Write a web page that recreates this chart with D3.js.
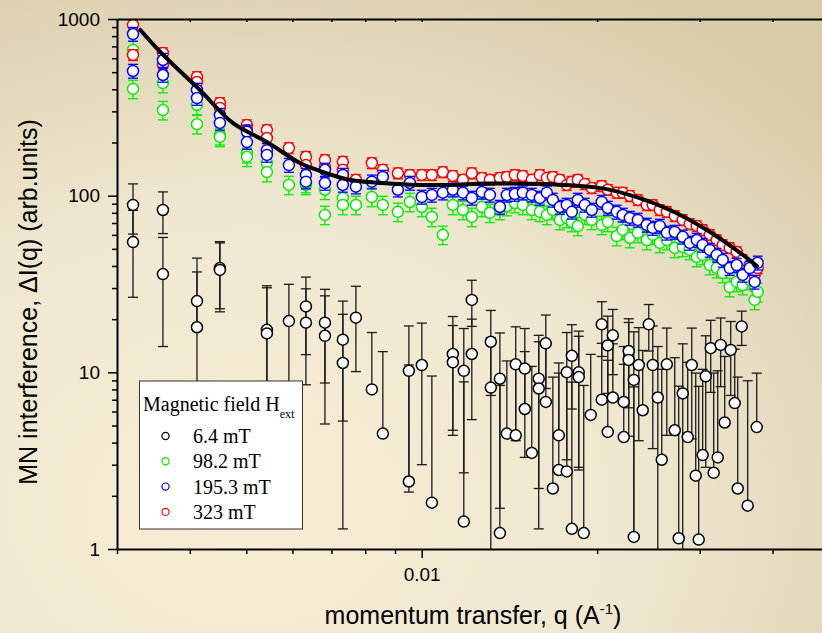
<!DOCTYPE html>
<html>
<head>
<meta charset="utf-8">
<script src="https://cdn.jsdelivr.net/npm/d3@7"></script>
<style>
  body { margin: 0; }
  svg { display: block; }
  .tick text { font-family: "Liberation Sans", Arial, sans-serif; font-size: 19px; fill: #000; }
</style>
</head>
<body>
<svg id="chart" width="822" height="633"></svg>
<script>
// legend entries (field values)
const fieldLabels = ["6.4 mT", "98.2 mT", "195.3 mT", "323 mT"];

// 6.4 mT: q, dI and (linear) error
const q64 = [0.003196, 0.003196, 0.003597, 0.003597, 0.004115, 0.004115, 0.004505, 0.004505, 0.005424, 0.005424,
    0.005917, 0.006329, 0.006329, 0.006823, 0.006823, 0.007323, 0.007323, 0.007711, 0.008212, 0.008577,
    0.009506, 0.009506, 0.010005, 0.01041, 0.01131, 0.01131, 0.01181, 0.01181, 0.01219, 0.01219,
    0.01314, 0.01314, 0.01362, 0.01362, 0.0140, 0.0145, 0.0145, 0.01503, 0.01503, 0.01545,
    0.01588, 0.01588, 0.01633, 0.01633, 0.01679, 0.01719, 0.01719, 0.01774, 0.01774, 0.0181,
    0.0181, 0.0186, 0.0186, 0.01897, 0.0195, 0.02037, 0.02037, 0.02086, 0.02086, 0.02128,
    0.02128, 0.02222, 0.02222, 0.02266, 0.02266, 0.02312, 0.02312, 0.02358, 0.02395, 0.02453,
    0.02492, 0.02542, 0.02582, 0.02634, 0.02718, 0.02761, 0.02805, 0.02861, 0.02907, 0.02953,
    0.02988, 0.03035, 0.03072, 0.03133, 0.0317, 0.03221, 0.03259, 0.03311, 0.03391, 0.03445,
    0.03486, 0.03541, 0.03626, 0.03758];
const I64 = [88.6, 54.6, 83, 36, 25.3, 18, 38.9, 38, 17.4, 16.6,
    19.5, 23.6, 19.1, 19.1, 16.1, 15.3, 11.3, 20.4, 8.0, 4.5,
    10.2, 2.41, 11.0, 1.83, 12.7, 11.4, 10.2, 1.43, 25.7, 12.7,
    14.9, 8.2, 9.2, 1.23, 4.5, 11.1, 4.4, 10.5, 6.2, 3.5,
    9.2, 8.1, 14.6, 6.8, 2.2, 4.4, 2.8, 10, 2.75, 12.4,
    1.3, 10, 9.4, 1.23, 5.74, 18.7, 7, 14.2, 4.6, 16.2,
    7.2, 6.8, 4.3, 13.2, 11.75, 9.06, 1.17, 11, 6.1, 18.7,
    11, 7.2, 3.2, 11.1, 4.7, 1.15, 7.6, 4.3, 11, 2.6,
    1.13, 3.4, 9.5, 13.7, 2.7, 3.3, 14.3, 5.2, 13.4, 6.7,
    2.2, 18.2, 1.76, 4.9];
const err64 = [28, 28, 22, 22, 19, 19, 16, 16, 13.5, 13.5,
    12, 11, 10.6, 10.4, 11, 10, 10, 10.3, 8.8, 8.6,
    8.1, 8.6, 8, 7.7, 8, 7, 7.5, 7.4, 7.5, 7.3,
    7.5, 7.5, 7.5, 7.2, 7.1, 7, 6.8, 7.2, 6.9, 7.3,
    7, 6.8, 6.5, 7.4, 7.2, 6.9, 7.1, 6.8, 7.3, 6.2,
    7.5, 7.1, 6.6, 7.2, 6.9, 6.4, 7.6, 6.6, 7.1, 6.5,
    7.3, 7.2, 6.8, 6.9, 7.4, 7.9, 7.1, 6.9, 7.2, 5.5,
    7.3, 6.8, 7.2, 6.7, 7.4, 7.2, 6.9, 7.1, 6.8, 7.3,
    7.2, 7, 6.6, 6, 7.2, 6.9, 6, 7.1, 6, 6.8,
    7.2, 4, 7.2, 5]
;

// q grid shared by the three higher-field curves
const qHi = [0.003196, 0.003196, 0.003597, 0.003597, 0.004115, 0.004115, 0.004505, 0.004505, 0.005013, 0.005013,
    0.005424, 0.005424, 0.005917, 0.006329, 0.006329, 0.006823, 0.006823, 0.007323, 0.007323, 0.007711,
    0.008212, 0.008577, 0.009102, 0.009544, 0.010005, 0.01041, 0.010874, 0.01131, 0.011768, 0.01219,
    0.012685, 0.01309, 0.01362, 0.0140, 0.014448, 0.014911, 0.01545, 0.015949, 0.016396, 0.01679,
    0.01726, 0.01774, 0.0181, 0.01853, 0.01905, 0.01958, 0.02037, 0.02086, 0.02161, 0.02213,
    0.02276, 0.02349, 0.02433, 0.02492, 0.02562, 0.02634, 0.02718, 0.02805, 0.02884, 0.02965,
    0.03035, 0.03121, 0.03208, 0.03285, 0.03377, 0.03472, 0.03555, 0.03655, 0.03727, 0.03772];

const I98 = [668, 402, 434, 305, 326, 254, 220, 215, 174, 166,
    153, 136, 115, 115, 118, 108, 77.8, 97.1, 88.6, 88.6,
    98.4, 88.6, 81, 92.1, 86.3, 75.8, 60, 88.6, 83, 75.8,
    86.3, 80, 83, 87.4, 90.9, 88.6, 83, 81, 77.8, 83,
    72.9, 74.8, 71, 67.4, 77.8, 72.9, 68.3, 71, 59.1, 64,
    57.6, 61.6, 56.1, 60, 54, 56.1, 50.6, 51.3, 49.3, 45,
    46.2, 40.5, 38.9, 36.5, 30.4, 32.5, 31.2, 33.4, 25.7, 28.5];

const I195 = [822, 508, 586, 482, 397, 357, 286, 258, 230, 201,
    181, 170, 149, 131, 120, 140, 118, 131, 115, 112.5,
    120, 127.6, 108, 118, 98.4, 101, 104, 108, 104, 97.1,
    105, 101, 86.3, 101, 102.2, 104, 101, 97.1, 104, 94.6,
    86.3, 88.6, 81, 94.6, 88.6, 83, 92.1, 85.2, 81, 77.8,
    74.8, 72.9, 68.3, 65.6, 67.4, 61.6, 62.3, 58.5, 54, 56.1,
    52.6, 49.3, 46.2, 43.3, 38.9, 40.5, 35.6, 38.9, 32.5, 41.7];

const I323 = [925, 626, 642, 549, 470, 440, 335, 314, 251, 235,
    235, 212, 186, 166, 149, 146, 159, 155.6, 140, 123,
    153, 140, 134, 131, 131, 131, 136, 129.3, 123, 134,
    126, 123, 126, 127.6, 131, 129.3, 123, 131, 126, 127.6,
    123, 115, 120, 123, 116.5, 110.6, 113.5, 108, 104, 104,
    99.6, 94.6, 88.6, 88.6, 83, 81, 76.8, 72.9, 69.2, 67.4,
    64, 60, 56.1, 52.6, 50.6, 48, 43.3, 40.5, 35.6, 38.9];

// relative error of the higher-field data
const relErr = [0.12, 0.09, 0.07];

// model curve
const qFit = [0.00329, 0.0036, 0.00416, 0.00474, 0.00543, 0.00618, 0.00661, 0.00752, 0.00857, 0.00993,
    0.01118, 0.01294, 0.01677, 0.02046, 0.02339, 0.02666, 0.03036, 0.03474, 0.03761];
const IFit = [867, 626, 397, 258, 201, 153, 140, 123, 118, 115,
    115, 117, 116, 110, 98, 83, 66, 49, 40];

const yMajor = [1, 10, 100, 1000];
const xMajor = [0.01];

const colors = ["#000000", "#00ee00", "#0000ff", "#ff0000"];

const width = 822;
const height = 633;
const plotLeft = 117;
const plotRight = 829;
const plotTop = 19;
const plotBottom = 549;

const svg = d3.select("#chart");

// background
const defs = svg.append("defs");
const grad = defs.append("radialGradient")
    .attr("id", "bg")
    .attr("cx", "0.3").attr("cy", "0.8").attr("r", "0.95");
grad.append("stop").attr("offset", "0").attr("stop-color", "#f8edd5");
grad.append("stop").attr("offset", "0.5").attr("stop-color", "#efe7d0");
grad.append("stop").attr("offset", "1").attr("stop-color", "#d8cba8");
svg.append("rect").attr("width", width).attr("height", height).attr("fill", "url(#bg)");

defs.append("clipPath").attr("id", "plot-clip")
    .append("rect")
    .attr("x", plotLeft).attr("y", plotTop)
    .attr("width", width - plotLeft).attr("height", plotBottom - plotTop);

const x = d3.scaleLog().domain([0.003, 0.05]).range([plotLeft, plotRight]);
const y = d3.scaleLog().domain([1, 1000]).range([plotBottom, plotTop]);

const plot = svg.append("g").attr("clip-path", "url(#plot-clip)");

// draw one data set with error bars
function drawSeries(qs, vals, errs, color, lineColor) {
    const g = plot.append("g");
    const cap = 5;
    qs.forEach(function (q, i) {
        const v = vals[i];
        const e = errs[i];
        const cx = x(q);
        const hi = v + e;
        const lo = v - e;
        g.append("line")
            .attr("x1", cx).attr("x2", cx)
            .attr("y1", y(v)).attr("y2", y(hi))
            .attr("stroke", lineColor).attr("stroke-width", 1.3);
        g.append("line")
            .attr("x1", cx - cap).attr("x2", cx + cap)
            .attr("y1", y(hi)).attr("y2", y(hi))
            .attr("stroke", lineColor).attr("stroke-width", 1.3);
        // lower bar is left out when it goes to zero or below
        if (lo > 0) {
            g.append("line")
                .attr("x1", cx).attr("x2", cx)
                .attr("y1", y(v)).attr("y2", y(lo))
                .attr("stroke", lineColor).attr("stroke-width", 1.3);
            g.append("line")
                .attr("x1", cx - cap).attr("x2", cx + cap)
                .attr("y1", y(lo)).attr("y2", y(lo))
                .attr("stroke", lineColor).attr("stroke-width", 1.3);
        }
    });
    g.selectAll("circle")
        .data(qs)
        .join("circle")
        .attr("cx", function (d) { return x(d); })
        .attr("cy", function (d, i) { return y(vals[i]); })
        .attr("r", 5.5)
        .attr("fill", "#ffffff")
        .attr("stroke", color)
        .attr("stroke-width", 1.5);
}

drawSeries(q64, I64, err64, colors[0], "#1a1a1a");
drawSeries(qHi, I98, I98.map(function (v) { return v * relErr[0]; }), colors[1], colors[1]);
drawSeries(qHi, I323, I323.map(function (v) { return v * relErr[2]; }), colors[3], colors[3]);
drawSeries(qHi, I195, I195.map(function (v) { return v * relErr[1]; }), colors[2], colors[2]);

// fit curve
plot.append("path")
    .datum(qFit)
    .attr("d", d3.line()
        .x(function (d) { return x(d); })
        .y(function (d, i) { return y(IFit[i]); })
        .curve(d3.curveCatmullRom))
    .attr("fill", "none")
    .attr("stroke", "#000")
    .attr("stroke-width", 4)
    .attr("stroke-linecap", "round");

// axes
const yMinor = y.ticks().filter(function (d) { return yMajor.indexOf(d) < 0; });
const xMinor = x.ticks().filter(function (d) { return xMajor.indexOf(d) < 0 && d < 0.05; });

function styleAxis(g) {
    g.select(".domain").attr("stroke", "#000").attr("stroke-width", 2);
    g.selectAll(".tick line").attr("stroke", "#000").attr("stroke-width", 1.5);
}

svg.append("g")
    .attr("transform", `translate(${plotLeft},0)`)
    .call(d3.axisLeft(y).tickValues(yMinor).tickSize(5).tickSizeOuter(0).tickFormat(""))
    .call(function (g) { g.select(".domain").remove(); g.selectAll(".tick line").attr("stroke", "#000").attr("stroke-width", 1.5); });
svg.append("g")
    .attr("transform", `translate(${plotLeft},0)`)
    .call(d3.axisLeft(y).tickValues(yMajor).tickSize(9).tickSizeOuter(0).tickPadding(8).tickFormat(d3.format("d")))
    .call(styleAxis);

svg.append("g")
    .attr("transform", `translate(0,${plotBottom})`)
    .call(d3.axisBottom(x).tickValues(xMinor).tickSize(5).tickSizeOuter(0).tickFormat(""))
    .call(function (g) { g.select(".domain").remove(); g.selectAll(".tick line").attr("stroke", "#000").attr("stroke-width", 1.5); });
svg.append("g")
    .attr("transform", `translate(0,${plotBottom})`)
    .call(d3.axisBottom(x).tickValues(xMajor).tickSize(9).tickSizeOuter(0).tickPadding(10).tickFormat(function (d) { return "0.01"; }))
    .call(styleAxis);

svg.append("g")
    .attr("transform", `translate(0,${plotTop})`)
    .call(d3.axisTop(x).tickValues(xMinor.concat(xMajor)).tickSize(-3).tickSizeOuter(0).tickFormat(""))
    .call(styleAxis);

// axis titles
svg.append("text")
    .attr("transform", "translate(37,302) rotate(-90)")
    .attr("text-anchor", "middle")
    .attr("font-family", "Liberation Sans, Arial, sans-serif")
    .attr("font-size", "25px")
    .text("MN interference, \u0394I(q) (arb.units)");

const xTitle = svg.append("text")
    .attr("x", 473)
    .attr("y", 624)
    .attr("text-anchor", "middle")
    .attr("font-family", "Liberation Sans, Arial, sans-serif")
    .attr("font-size", "25px");
xTitle.append("tspan").text("momentum transfer, q (A");
xTitle.append("tspan").attr("font-size", "15px").attr("dy", -10).text("-1");
xTitle.append("tspan").attr("dy", 10).text(")");

// legend
const legend = svg.append("g");
legend.append("rect")
    .attr("x", 139.5).attr("y", 381)
    .attr("width", 163).attr("height", 148)
    .attr("fill", "#ffffff")
    .attr("stroke", "#333")
    .attr("stroke-width", 1);
const legTitle = legend.append("text")
    .attr("x", 143).attr("y", 411)
    .attr("font-family", "Liberation Serif, Times New Roman, serif")
    .attr("font-size", "20px");
legTitle.append("tspan").text("Magnetic field H");
legTitle.append("tspan").attr("font-size", "12px").attr("dy", 7).text("ext");

fieldLabels.forEach(function (label, i) {
    const cy = 436 + i * 25.3;
    legend.append("circle")
        .attr("cx", 165.5).attr("cy", cy)
        .attr("r", 3.6)
        .attr("fill", "none")
        .attr("stroke", colors[i])
        .attr("stroke-width", 1.2);
    legend.append("text")
        .attr("x", 193).attr("y", cy + 7)
        .attr("font-family", "Liberation Serif, Times New Roman, serif")
        .attr("font-size", "20px")
        .text(label);
});
</script>
</body>
</html>
